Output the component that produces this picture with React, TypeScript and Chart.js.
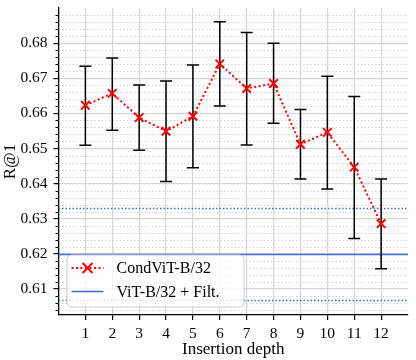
import React, { useEffect, useRef } from "react";
import { Chart, registerables } from "chart.js";

Chart.register(...registerables);

const depths = [1, 2, 3, 4, 5, 6, 7, 8, 9, 10, 11, 12];
const meanR1 = [0.6623, 0.6657, 0.6588, 0.6549, 0.6592, 0.6741, 0.6671, 0.6685, 0.6512, 0.6546, 0.6447, 0.6286];
const lowerR1 = [0.6509, 0.6552, 0.6495, 0.6406, 0.6445, 0.6621, 0.651, 0.6572, 0.6413, 0.6385, 0.6244, 0.6158];
const upperR1 = [0.6734, 0.6758, 0.6681, 0.6692, 0.6738, 0.6861, 0.683, 0.68, 0.6611, 0.6706, 0.6648, 0.6413];
const baselineMean = 0.6198;
const baselineLow = 0.6067;
const baselineHigh = 0.6329;
const xRange = [0, 13];
const yRange = [0.6026, 0.69];
const yMajorTicks = [0.61, 0.62, 0.63, 0.64, 0.65, 0.66, 0.67, 0.68];
const yMinorTicks = [
  0.604, 0.606, 0.608, 0.612, 0.614, 0.616, 0.618, 0.622, 0.624, 0.626, 0.628,
  0.632, 0.634, 0.636, 0.638, 0.642, 0.644, 0.646, 0.648, 0.652, 0.654, 0.656, 0.658,
  0.662, 0.664, 0.666, 0.668, 0.672, 0.674, 0.676, 0.678, 0.682, 0.684, 0.686, 0.688,
];
const seriesLabels = ["CondViT-B/32", "ViT-B/32 + Filt."];
const xTitle = "Insertion depth";
const yTitle = "R@1";

const RED = "#ff0000";
const BLUE = "#4169e1";
const GRID = "#d6d6d6";
const FONT = "'Liberation Serif', 'Times New Roman', serif";

const overlayPlugin = {
  id: "overlay",
  beforeDatasetsDraw(chart: any) {
    const { ctx, chartArea, scales } = chart;
    const y = scales.y;
    ctx.save();
    yMinorTicks.forEach((v) => {
      const py = Math.round(y.getPixelForValue(v)) + 0.5;
      if (py < chartArea.top || py > chartArea.bottom) return;
      ctx.strokeStyle = "#c8c8c8";
      ctx.lineWidth = 1;
      ctx.setLineDash([1.2, 2.4]);
      ctx.beginPath();
      ctx.moveTo(chartArea.left, py);
      ctx.lineTo(chartArea.right, py);
      ctx.stroke();
      ctx.setLineDash([]);
      ctx.strokeStyle = "#000";
      ctx.lineWidth = 1;
      ctx.beginPath();
      ctx.moveTo(chartArea.left - 3, py);
      ctx.lineTo(chartArea.left, py);
      ctx.stroke();
    });
    ctx.restore();
  },
  beforeDatasetDraw(chart: any, args: any) {
    if (args.index !== 0) return;
    const { ctx, scales } = chart;
    const x = scales.x;
    const y = scales.y;
    ctx.save();
    ctx.strokeStyle = "#000";
    ctx.lineWidth = 1.5;
    ctx.setLineDash([]);
    depths.forEach((d, i) => {
      const px = x.getPixelForValue(d);
      const pLo = y.getPixelForValue(lowerR1[i]);
      const pHi = y.getPixelForValue(upperR1[i]);
      ctx.beginPath();
      ctx.moveTo(px, pLo);
      ctx.lineTo(px, pHi);
      ctx.moveTo(px - 6, pLo);
      ctx.lineTo(px + 6, pLo);
      ctx.moveTo(px - 6, pHi);
      ctx.lineTo(px + 6, pHi);
      ctx.stroke();
    });
    ctx.restore();
  },
  afterDraw(chart: any) {
    const { ctx, chartArea } = chart;
    const bx = chartArea.left + 8;
    const bw = 177;
    const bh = 52;
    const by = chartArea.bottom - 8.5 - bh;
    ctx.save();
    ctx.beginPath();
    ctx.roundRect(bx + 0.5, by + 0.5, bw, bh, 4);
    ctx.fillStyle = "rgba(255,255,255,0.8)";
    ctx.fill();
    ctx.strokeStyle = "#cccccc";
    ctx.lineWidth = 1;
    ctx.stroke();

    const row1 = by + 13.5;
    const row2 = by + 37;
    const lx0 = bx + 5;
    const lx1 = bx + 37;
    const mx = (lx0 + lx1) / 2;
    ctx.strokeStyle = RED;
    ctx.lineWidth = 2;
    ctx.setLineDash([2, 2.5]);
    ctx.beginPath();
    ctx.moveTo(lx0, row1);
    ctx.lineTo(lx1, row1);
    ctx.stroke();
    ctx.setLineDash([]);
    ctx.beginPath();
    ctx.moveTo(mx - 5, row1 - 5);
    ctx.lineTo(mx + 5, row1 + 5);
    ctx.moveTo(mx - 5, row1 + 5);
    ctx.lineTo(mx + 5, row1 - 5);
    ctx.stroke();
    ctx.strokeStyle = BLUE;
    ctx.lineWidth = 1.5;
    ctx.beginPath();
    ctx.moveTo(lx0, row2);
    ctx.lineTo(lx1, row2);
    ctx.stroke();

    ctx.fillStyle = "#000";
    ctx.font = `16px ${FONT}`;
    ctx.textAlign = "left";
    ctx.textBaseline = "middle";
    ctx.fillText(seriesLabels[0], bx + 50, row1 + 1);
    ctx.fillText(seriesLabels[1], bx + 50, row2 + 1);
    ctx.restore();
  },
};

export default function App() {
  const ref = useRef<HTMLCanvasElement | null>(null);
  useEffect(() => {
    document.body.style.margin = "0";
    const canvas = ref.current;
    if (!canvas) return;
    const chart = new Chart(canvas, {
      type: "line",
      data: {
        datasets: [
          {
            label: seriesLabels[0],
            data: depths.map((d, i) => ({ x: d, y: meanR1[i] })),
            borderColor: RED,
            backgroundColor: RED,
            borderWidth: 2,
            borderDash: [2, 2.5],
            pointStyle: "crossRot",
            pointRadius: 6,
            pointBorderWidth: 2,
            pointBorderColor: RED,
            pointHoverRadius: 6,
            order: 0,
          },
          {
            label: seriesLabels[1],
            data: [
              { x: xRange[0], y: baselineMean },
              { x: xRange[1], y: baselineMean },
            ],
            borderColor: BLUE,
            borderWidth: 1.5,
            pointRadius: 0,
            order: 1,
          },
          {
            label: "upper",
            data: [
              { x: xRange[0], y: baselineHigh },
              { x: xRange[1], y: baselineHigh },
            ],
            borderColor: BLUE,
            borderWidth: 1.5,
            borderDash: [1.5, 2],
            pointRadius: 0,
            order: 1,
          },
          {
            label: "lower",
            data: [
              { x: xRange[0], y: baselineLow },
              { x: xRange[1], y: baselineLow },
            ],
            borderColor: BLUE,
            borderWidth: 1.5,
            borderDash: [1.5, 2],
            pointRadius: 0,
            order: 1,
          },
        ],
      },
      options: {
        animation: false,
        responsive: true,
        maintainAspectRatio: false,
        layout: { padding: 0 },
        plugins: {
          legend: { display: false },
          tooltip: { enabled: false },
        },
        scales: {
          x: {
            type: "linear",
            min: xRange[0],
            max: xRange[1],
            afterBuildTicks: (s: any) => {
              s.ticks = depths.map((v) => ({ value: v }));
            },
            afterFit: (s: any) => {
              s.height = 45;
              s.paddingLeft = 0;
              s.paddingRight = 0;
              s.paddingTop = 0;
              s.paddingBottom = 0;
            },
            grid: {
              color: GRID,
              lineWidth: 1.2,
              tickColor: "#000",
              tickLength: 5,
              tickWidth: 1.2,
            },
            border: { display: true, color: "#000", width: 1.3 },
            ticks: {
              color: "#000",
              font: { family: FONT, size: 15.5 },
              padding: 5,
              maxRotation: 0,
              autoSkip: false,
              callback: (v: any) => String(v),
            },
            title: {
              display: true,
              text: xTitle,
              color: "#000",
              font: { family: FONT, size: 17 },
              padding: { top: 0, bottom: 0 },
            },
          },
          y: {
            type: "linear",
            min: yRange[0],
            max: yRange[1],
            afterBuildTicks: (s: any) => {
              s.ticks = yMajorTicks.map((v) => ({ value: v }));
            },
            afterFit: (s: any) => {
              s.width = 58.5;
              s.paddingLeft = 0;
              s.paddingRight = 0;
              s.paddingTop = 0;
              s.paddingBottom = 0;
            },
            grid: {
              color: GRID,
              lineWidth: 1.2,
              tickColor: "#000",
              tickLength: 5,
              tickWidth: 1.2,
            },
            border: { display: true, color: "#000", width: 1.3 },
            ticks: {
              color: "#000",
              font: { family: FONT, size: 15.5 },
              padding: 6,
              autoSkip: false,
              callback: (v: any) => Number(v).toFixed(2),
            },
            title: {
              display: true,
              text: yTitle,
              color: "#000",
              font: { family: FONT, size: 17 },
              padding: { top: 0, bottom: 0 },
            },
          },
        },
      },
      plugins: [overlayPlugin],
    });
    return () => chart.destroy();
  }, []);

  return (
    <div style={{ width: 416, height: 360, position: "relative" }}>
      <canvas ref={ref} />
    </div>
  );
}
